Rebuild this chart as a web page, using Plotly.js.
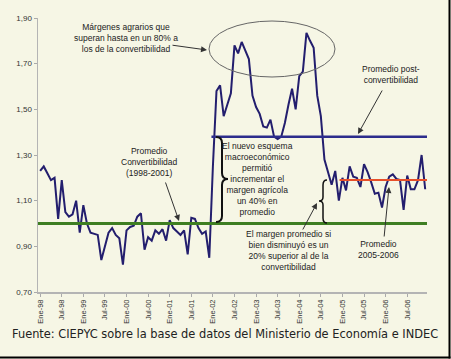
<!DOCTYPE html>
<html><head><meta charset="utf-8">
<script src="https://cdn.plot.ly/plotly-3.0.1.min.js"></script>
<style>html,body{margin:0;padding:0;background:#fff}#chart{width:451px;height:359px}</style>
</head><body><div id="chart"></div>
<script>
// Monthly index Ene-98 .. Dic-06 (108 months)
const tickLabels = ['Ene-98','Jul-98','Ene-99','Jul-99','Ene-00','Jul-00','Ene-01','Jul-01','Ene-02','Jul-02','Ene-03','Jul-03','Ene-04','Jul-04','Ene-05','Jul-05','Ene-06','Jul-06'];
const margin = [
 1.23,1.25,1.22,1.19,1.20,1.02,1.19,1.05,1.03,1.04,1.10,0.96,
 1.08,1.00,0.96,0.955,0.95,0.84,0.90,0.96,0.98,0.95,0.935,0.82,
 0.97,0.985,0.99,1.03,1.045,0.885,0.94,0.925,0.97,0.955,0.975,0.925,
 1.015,0.98,0.965,0.95,0.97,0.865,1.025,1.02,0.98,0.955,0.965,0.85,
 1.25,1.58,1.605,1.47,1.52,1.57,1.78,1.745,1.795,1.76,1.72,1.56,
 1.51,1.48,1.425,1.42,1.455,1.38,1.37,1.38,1.44,1.52,1.59,1.50,
 1.645,1.665,1.835,1.80,1.77,1.56,1.47,1.28,1.22,1.17,1.23,1.10,
 1.20,1.145,1.25,1.205,1.20,1.16,1.26,1.225,1.18,1.13,1.135,1.07,
 1.16,1.205,1.215,1.195,1.19,1.06,1.21,1.15,1.15,1.19,1.30,1.15
];
const avgConvertibilidad = 1.00;   // 1998-2001
const avgPost = 1.38;              // 2002-2006
const avg0506 = 1.19;              // 2005-2006
const postStart = 47.6, p0506Start = 83.2, lineEnd = 107.5, lineStartX = -0.6;

const months = margin.map((_, i) => i);
const tickVals = tickLabels.map((_, i) => i * 6);

// pixel -> paper helpers for decorations
const L = 38, R = 24, T = 18, B = 67, W = 451, H = 359;
const pw = W - L - R, ph = H - T - B;
const px = x => (x - L) / pw;
const py = y => (H - B - y) / ph;

const traces = [
  {x: months, y: margin, type: 'scatter', mode: 'lines', line: {color: '#231E6E', width: 2}, hoverinfo: 'skip'},
  {x: [lineStartX, lineEnd], y: [avgConvertibilidad, avgConvertibilidad], mode: 'lines', line: {color: '#3E7E22', width: 3}},
  {x: [postStart, lineEnd], y: [avgPost, avgPost], mode: 'lines', line: {color: '#2C2C8C', width: 2.5}},
  {x: [p0506Start, lineEnd], y: [avg0506, avg0506], mode: 'lines', line: {color: '#E8502A', width: 2}}
];

const txtFont = {family: 'Arial, "Liberation Sans", sans-serif', size: 8.5, color: '#222'};
function txt(x, y, text) {
  return {xref: 'paper', yref: 'paper', x: px(x), y: py(y), text: text, showarrow: false,
    font: txtFont, xanchor: 'center', yanchor: 'middle', align: 'center'};
}
function arrow(hx, hy, tx, ty) {
  return {xref: 'paper', yref: 'paper', x: px(hx), y: py(hy), ax: tx - hx, ay: ty - hy,
    text: '', showarrow: true, arrowhead: 2, arrowsize: 1.2, arrowwidth: 1, arrowcolor: '#333'};
}
// brace "}" at x ~216-228, y 137-222
const b1 = 'M ' + px(216) + ',' + py(137) +
  ' Q ' + px(222) + ',' + py(137) + ' ' + px(222) + ',' + py(143) +
  ' L ' + px(222) + ',' + py(173) +
  ' Q ' + px(222) + ',' + py(179) + ' ' + px(228) + ',' + py(179) +
  ' Q ' + px(222) + ',' + py(179) + ' ' + px(222) + ',' + py(185) +
  ' L ' + px(222) + ',' + py(216) +
  ' Q ' + px(222) + ',' + py(222) + ' ' + px(216) + ',' + py(222);
// brace "{" at x ~319-327, y 180-223
const b2 = 'M ' + px(327) + ',' + py(180) +
  ' Q ' + px(323) + ',' + py(180) + ' ' + px(323) + ',' + py(185) +
  ' L ' + px(323) + ',' + py(197) +
  ' Q ' + px(323) + ',' + py(201) + ' ' + px(319) + ',' + py(201) +
  ' Q ' + px(323) + ',' + py(201) + ' ' + px(323) + ',' + py(205) +
  ' L ' + px(323) + ',' + py(218) +
  ' Q ' + px(323) + ',' + py(223) + ' ' + px(327) + ',' + py(223);

const layout = {
  width: W, height: H,
  margin: {l: L, r: R, t: T, b: B},
  paper_bgcolor: '#F6F6E5', plot_bgcolor: '#F6F6E5',
  showlegend: false,
  separators: ',.',
  font: {family: 'Arial, "Liberation Sans", sans-serif', size: 8, color: '#333'},
  xaxis: {range: [lineStartX, lineEnd], tickvals: tickVals, ticktext: tickLabels, tickangle: -90,
    ticks: 'outside', ticklen: 3, tickcolor: '#AAA', showline: true, linecolor: '#B4B4B4', linewidth: 1.5,
    showgrid: false, zeroline: false, tickfont: {size: 7.5, color: '#333'}},
  yaxis: {range: [0.70, 1.90], tickvals: [0.7, 0.9, 1.1, 1.3, 1.5, 1.7, 1.9], tickformat: '.2f',
    ticks: 'outside', ticklen: 3, tickcolor: '#AAA', showline: true, linecolor: '#B4B4B4', linewidth: 1.5,
    showgrid: false, zeroline: false, tickfont: {size: 8, color: '#333'}},
  shapes: [
    {type: 'circle', xref: 'paper', yref: 'paper', x0: px(209), x1: px(335), y0: py(77), y1: py(21),
      line: {color: '#666', width: 1}},
    {type: 'path', xref: 'paper', yref: 'paper', path: b1, line: {color: '#111', width: 2}},
    {type: 'path', xref: 'paper', yref: 'paper', path: b2, line: {color: '#111', width: 1.5}},
    {type: 'line', xref: 'paper', yref: 'paper', x0: px(449.5), x1: px(449.5), y0: py(0), y1: py(358.5),
      line: {color: '#000', width: 2}},
    {type: 'line', xref: 'paper', yref: 'paper', x0: px(0), x1: px(450.5), y0: py(357.5), y1: py(357.5),
      line: {color: '#000', width: 2}}
  ],
  annotations: [
    txt(126, 38, 'Márgenes agrarios que<br>superan hasta en un 80% a<br>los de la convertibilidad'),
    arrow(207, 50, 171, 45),
    txt(391, 74, 'Promedio post-<br>convertibilidad'),
    arrow(358, 134, 383, 89),
    txt(149, 162, 'Promedio<br>Convertibilidad<br>(1998-2001)'),
    arrow(179, 221, 165, 181),
    txt(257, 179, 'El nuevo esquema<br>macroeconómico<br>permitió<br>incrementar el<br>margen agrícola<br>un 40% en<br>promedio'),
    txt(288, 250, 'El margen promedio si<br>bien disminuyó es un<br>20% superior al de la<br>convertibilidad'),
    arrow(317, 203, 302, 231),
    txt(378, 249, 'Promedio<br>2005-2006'),
    arrow(389, 187, 384, 238),
    {xref: 'paper', yref: 'paper', x: px(224.5), y: py(334), text: 'Fuente: CIEPYC sobre la base de datos del Ministerio de Economía e INDEC',
      showarrow: false, xanchor: 'center', yanchor: 'middle',
      font: {family: '"DejaVu Sans", Verdana, sans-serif', size: 11.4, color: '#222'}}
  ]
};
Plotly.newPlot('chart', traces, layout, {staticPlot: true, displayModeBar: false});
</script></body></html>
